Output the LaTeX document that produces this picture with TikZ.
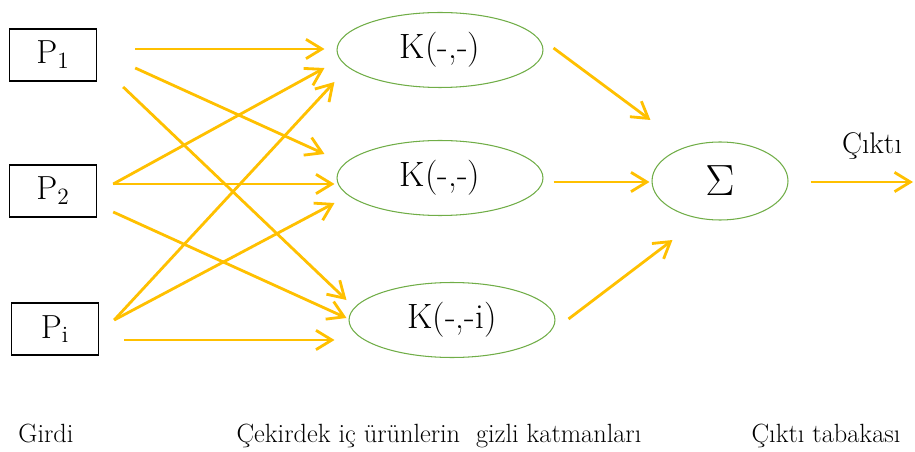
\documentclass[tikz,border=0pt]{standalone}
\usepackage{fontspec}
\usepackage{xcolor}
\definecolor{arrgold}{HTML}{FFC000}
\definecolor{kgreen}{HTML}{70AD47}
\usepackage{tikz}
\usetikzlibrary{shapes.geometric, arrows.meta}

\begin{document}
\begin{tikzpicture}[
      %% one unit = one pixel of the 915x452 frame, y pointing down
      x=0.02cm, y=-0.02cm,
      %% input boxes
      inbox/.style={rectangle, draw=black, line width=0.8pt,
                    minimum width=1.74cm, minimum height=1.04cm,
                    inner sep=0pt, font=\fontsize{19}{21}\selectfont},
      %% kernel (hidden layer) ellipses
      kern/.style={ellipse, draw=kgreen, line width=0.6pt,
                   minimum width=4.12cm, minimum height=1.5cm,
                   inner sep=0pt, font=\fontsize{20}{22}\selectfont},
      %% summation node
      sumnode/.style={ellipse, draw=kgreen, line width=0.6pt,
                      minimum width=2.72cm, minimum height=1.56cm,
                      inner sep=0pt, font=\fontsize{24}{26}\selectfont},
      arr/.style={-{Straight Barb[length=9pt, width=11pt]},
                  draw=arrgold, line width=1.6pt},
      lbl/.style={font=\fontsize{17}{19}\selectfont, inner sep=0pt},
      layercap/.style={font=\fontsize{15}{17}\selectfont, inner sep=0pt, anchor=base},
    ]
    \useasboundingbox (0,0) rectangle (915,452);

    %% ── Inputs ──────────────────────────────────────────────────────────────
    \node[inbox] (p1) at (53,55)  {P\textsubscript{1}};
    \node[inbox] (p2) at (53,191) {P\textsubscript{2}};
    \node[inbox] (pi) at (55,329) {P\textsubscript{i}};

    %% ── Kernel layer ────────────────────────────────────────────────────────
    \node[kern] (k1) at (440,50)  {K(-,-)};
    \node[kern] (k2) at (440,178) {K(-,-)};
    \node[kern] (k3) at (452,320) {K(-,-i)};

    %% ── Output ──────────────────────────────────────────────────────────────
    \node[sumnode] (sum) at (720,181) {$\Sigma$};
    \coordinate (out) at (913,182);

    %% ── Arrows: inputs to kernels ───────────────────────────────────────────
    \draw[arr] ([shift={(38,-6)}]p1.east) -- ([shift={(-12,-1)}]k1.west);
    \draw[arr] ([shift={(38,13)}]p1.east) -- ([shift={(-12,-24)}]k2.west);
    \draw[arr] ([shift={(26,32)}]p1.east) -- ([shift={(-2,-20)}]k3.west);

    \draw[arr] ([shift={(16,-7)}]p2.east) -- ([shift={(-12,18)}]k1.west);
    \draw[arr] ([shift={(16,-7)}]p2.east) -- ([shift={(-2,6)}]k2.west);
    \draw[arr] ([shift={(16,21)}]p2.east) -- ([shift={(-2,-2)}]k3.west);

    \draw[arr] ([shift={(15,-9)}]pi.east) -- ([shift={(-2,32)}]k1.west);
    \draw[arr] ([shift={(15,-9)}]pi.east) -- ([shift={(-2,25)}]k2.west);
    \draw[arr] ([shift={(25,11)}]pi.east) -- ([shift={(-14,20)}]k3.west);

    %% ── Arrows: kernels to sum, sum to output ───────────────────────────────
    \draw[arr] ([shift={(10,-2)}]k1.east) -- ([shift={(-1,-61)}]sum.west);
    \draw[arr] ([shift={(10,4)}]k2.east)  -- ([shift={(-2,1)}]sum.west);
    \draw[arr] ([shift={(13,-1)}]k3.east) -- ([shift={(21,59)}]sum.west);

    \draw[arr] ([shift={(22,1)}]sum.east)
      -- node[lbl, pos=0.6, above=12pt] {Çıktı} (out);

    %% ── Layer captions ──────────────────────────────────────────────────────
    \node[layercap] (cin)  at (46,442)  {Girdi};
    \node[layercap] (chid) at (439,442) {Çekirdek iç ürünlerin~ gizli katmanları};
    \node[layercap] (cout) at (826,442) {Çıktı tabakası};
  \end{tikzpicture}
\end{document}
